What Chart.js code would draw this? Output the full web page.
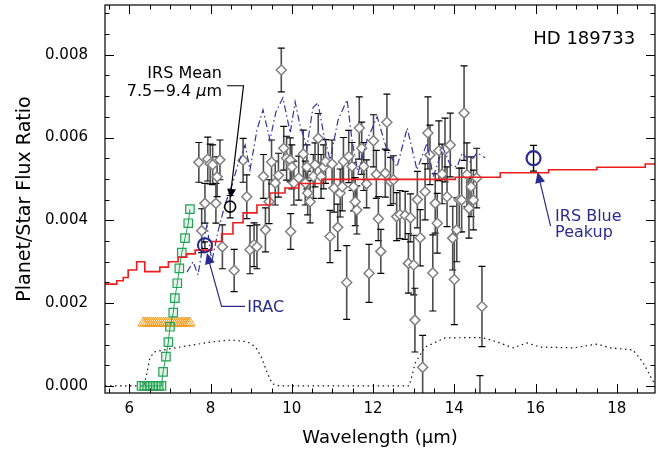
<!DOCTYPE html>
<html><head><meta charset="utf-8">
<script src="https://cdn.jsdelivr.net/npm/chart.js@4.4.1/dist/chart.umd.min.js"></script>
<style>html,body{margin:0;padding:0;background:#fff;}canvas{display:block;}</style>
</head><body>
<canvas id="c" width="660" height="453" style="width:660px;height:453px"></canvas>
<script>
// ---------------- data ----------------
const xTickValues = [6, 8, 10, 12, 14, 16, 18];
const yTickValues = [0.000, 0.002, 0.004, 0.006, 0.008];

// IRS spectrum (grey diamonds with error bars)
const irsWave = [7.71,7.78,7.86,7.93,7.99,8.05,8.13,8.16,8.23,8.29,8.58,8.80,8.89,8.97,9.07,9.14,9.30,9.35,9.44,9.50,
  9.59,9.67,9.74,9.80,9.87,9.96,9.97,10.00,10.05,10.17,10.28,10.33,10.37,10.39,10.45,10.53,10.57,10.65,10.72,10.78,
  10.83,10.94,10.99,11.04,11.13,11.19,11.24,11.27,11.35,11.40,11.48,11.52,11.56,11.60,11.66,11.72,11.77,11.84,11.90,12.01,
  12.08,12.13,12.19,12.30,12.34,12.43,12.50,12.58,12.66,12.79,12.87,12.92,13.00,13.03,13.09,13.16,13.22,13.28,13.35,13.40,
  13.47,13.53,13.58,13.62,13.70,13.77,13.82,13.90,13.96,14.00,14.06,14.12,14.18,14.24,14.31,14.36,14.41,14.47,14.55,14.63,14.68];
const irsFlux = [0.00540,0.00375,0.00441,0.00548,0.00536,0.00534,0.00441,0.00505,0.00546,0.00336,0.00279,0.00545,0.00457,0.00329,0.00341,0.00336,0.00506,0.00377,0.00445,0.00541,
  0.00490,0.00509,0.00763,0.00574,0.00550,0.00546,0.00373,0.00529,0.00490,0.00502,0.00560,0.00490,0.00529,0.00466,0.00445,0.00506,0.00534,0.00598,0.00506,0.00529,
  0.00542,0.00361,0.00536,0.00478,0.00383,0.00466,0.00481,0.00542,0.00250,0.00554,0.00530,0.00481,0.00445,0.00425,0.00623,0.00574,0.00530,0.00488,0.00272,0.00592,
  0.00511,0.00404,0.00325,0.00514,0.00637,0.00494,0.00498,0.00409,0.00414,0.00412,0.00296,0.00406,0.00292,0.00159,0.00450,0.00358,0.00045,0.00469,0.00611,0.00558,
  0.00273,0.00441,0.00393,0.00568,0.00512,0.00570,0.00457,0.00582,0.00357,0.00257,0.00377,0.00449,0.00449,0.00659,0.00510,0.00429,0.00481,0.00449,0.00502,-0.00045,0.00192];
const irsErr = [0.00048,0.00053,0.00048,0.00053,0.00048,0.00048,0.00048,0.00048,0.00048,0.00053,0.00051,0.00053,0.00053,0.00058,0.00053,0.00053,0.00053,0.00053,0.00053,0.00053,
  0.00053,0.00053,0.00053,0.00053,0.00053,0.00053,0.00043,0.00053,0.00053,0.00053,0.00058,0.00053,0.00053,0.00053,0.00051,0.00053,0.00053,0.00060,0.00053,0.00053,
  0.00053,0.00063,0.00058,0.00058,0.00056,0.00058,0.00058,0.00058,0.00089,0.00063,0.00058,0.00058,0.00058,0.00058,0.00075,0.00063,0.00058,0.00058,0.00070,0.00063,
  0.00058,0.00053,0.00053,0.00058,0.00068,0.00058,0.00058,0.00058,0.00058,0.00058,0.00072,0.00058,0.00072,0.00077,0.00068,0.00068,0.00077,0.00068,0.00087,0.00072,
  0.00092,0.00072,0.00072,0.00072,0.00072,0.00077,0.00072,0.00077,0.00077,0.00109,0.00077,0.00077,0.00077,0.00114,0.00077,0.00072,0.00072,0.00072,0.00072,0.00070,0.00097];

// model (red step line)
const modelWave = [5.40,5.69,5.85,5.97,6.18,6.38,6.75,6.96,7.20,7.41,7.62,8.03,8.27,8.55,8.80,9.14,9.46,9.83,10.17,10.74,14.02,15.13,16.32,17.51,18.70,18.94];
const modelFlux = [0.00246,0.00254,0.00262,0.00280,0.00300,0.00276,0.00287,0.00300,0.00311,0.00319,0.00328,0.00349,0.00367,0.00394,0.00418,0.00437,0.00466,0.00478,0.00489,0.00499,0.00504,0.00515,0.00522,0.00528,0.00536,0.00536];

// blue dash-dot spectrum
const blueWave = [7.42,7.57,7.69,7.81,7.91,8.03,8.18,8.35,8.53,8.67,8.85,8.97,9.14,9.29,9.46,9.61,9.78,9.96,10.08,10.20,
  10.37,10.52,10.64,10.79,10.94,11.14,11.36,11.48,11.63,11.85,12.10,12.34,12.59,12.84,13.08,13.33,13.48,13.72,13.90,14.07,14.19,14.39,14.56,14.76];
const blueFlux = [0.00275,0.00300,0.00268,0.00341,0.00389,0.00300,0.00372,0.00437,0.00486,0.00534,0.00582,0.00522,0.00618,0.00667,0.00594,0.00662,0.00696,0.00611,0.00686,0.00630,
  0.00577,0.00672,0.00684,0.00606,0.00546,0.00643,0.00691,0.00594,0.00514,0.00594,0.00650,0.00570,0.00529,0.00623,0.00522,0.00587,0.00505,0.00575,0.00534,0.00529,0.00563,0.00541,0.00563,0.00551];

// dotted bandpass curve
const bandWave = [5.40,6.35,6.42,6.50,6.60,7.00,7.50,8.00,8.50,8.90,9.10,9.25,9.40,9.52,9.70,12.89,13.04,13.28,13.77,14.68,15.00,15.45,15.79,16.11,16.93,17.52,17.84,18.40,18.65,18.90,19.00];
const bandFlux = [0,0,0.00025,0.00065,0.00082,0.00090,0.00098,0.00106,0.00111,0.00107,0.00095,0.00070,0.00030,0.00005,0,0,0.00056,0.00094,0.00116,0.00117,0.00108,0.00092,0.00104,0.00094,0.00092,0.00101,0.00092,0.00087,0.00056,0.00010,0.00002];

// green squares
const greenWave = [6.30,6.37,6.44,6.51,6.58,6.65,6.72,6.79,6.83,6.90,6.96,7.00,7.08,7.12,7.18,7.23,7.29,7.37,7.45,7.49];
const greenFlux = [0,0,0,0,0,0,0,0,0.00034,0.00071,0.00106,0.00143,0.00177,0.00212,0.00248,0.00284,0.00322,0.00357,0.00393,0.00427];

// orange triangles
const orangeWave = [6.34,6.39,6.44,6.49,6.54,6.59,6.64,6.69,6.74,6.79,6.84,6.89,6.94,6.99,7.04,7.09,7.14,7.19,7.24,7.29,7.34,7.39,7.44,7.49];
const orangeFlux = [0.00152,0.00152,0.00152,0.00152,0.00152,0.00152,0.00152,0.00152,0.00152,0.00152,0.00152,0.00152,0.00152,0.00152,0.00152,0.00152,0.00152,0.00152,0.00152,0.00152,0.00152,0.00152,0.00152,0.00152];

// photometric points
const iracWave = [7.86], iracFlux = [0.00340], iracErr = [0.00008];
const meanWave = [8.48], meanFlux = [0.00433], meanErr = [0.00027];
const peakWave = [15.95], peakFlux = [0.00550], peakErr = [0.00031];

// ---------------- chart ----------------
const X_MIN = 5.4, X_MAX = 18.94;
const pts = (xs, ys) => xs.map((x, i) => ({x: x, y: ys[i]}));
Chart.defaults.font.family = "'DejaVu Sans', sans-serif";
Chart.defaults.color = '#000';
const NAVY = '#2b2b8f';
const FONT = "'DejaVu Sans', sans-serif";

function arrowHead(ctx, fx, fy, tx, ty, len, half, color) {
  const a = Math.atan2(ty - fy, tx - fx);
  ctx.fillStyle = color;
  ctx.beginPath();
  ctx.moveTo(tx, ty);
  ctx.lineTo(tx - len * Math.cos(a) + half * Math.sin(a), ty - len * Math.sin(a) - half * Math.cos(a));
  ctx.lineTo(tx - len * Math.cos(a) - half * Math.sin(a), ty - len * Math.sin(a) + half * Math.cos(a));
  ctx.closePath();
  ctx.fill();
}

const overlay = {
  id: 'overlay',
  beforeDatasetDraw(chart, args) {
    const ds = chart.data.datasets[args.index];
    if (!ds.errors) return;
    const {ctx, chartArea: ca, scales: {x, y}} = chart;
    ctx.save();
    ctx.beginPath(); ctx.rect(ca.left, ca.top, ca.right - ca.left, ca.bottom - ca.top); ctx.clip();
    ds.data.forEach((p, i) => {
      const e = ds.errors[i];
      const px = x.getPixelForValue(p.x);
      const y1 = y.getPixelForValue(p.y + e), y2 = y.getPixelForValue(p.y - e);
      ctx.strokeStyle = ds.errColor; ctx.lineWidth = ds.errWidth;
      ctx.beginPath(); ctx.moveTo(px, y1); ctx.lineTo(px, y2); ctx.stroke();
      ctx.strokeStyle = '#000'; ctx.lineWidth = 1.2;
      const c = ds.capHalf;
      ctx.beginPath();
      ctx.moveTo(px - c, y1); ctx.lineTo(px + c, y1);
      ctx.moveTo(px - c, y2); ctx.lineTo(px + c, y2);
      ctx.stroke();
    });
    ctx.restore();
  },
  afterDraw(chart) {
    const {ctx, chartArea: ca, scales: {x, y}} = chart;
    ctx.save();
    // frame
    ctx.strokeStyle = '#000'; ctx.lineWidth = 1.2;
    ctx.strokeRect(ca.left, ca.top, ca.right - ca.left, ca.bottom - ca.top);
    // inward ticks, all four sides
    ctx.beginPath();
    for (let k = 11; k * 0.5 <= X_MAX; k++) {
      const v = k * 0.5;
      const px = Math.round(x.getPixelForValue(v)) + 0.5;
      const major = xTickValues.some(t => Math.abs(t - v) < 1e-6);
      const L = major ? 9 : 4.5;
      ctx.moveTo(px, ca.bottom); ctx.lineTo(px, ca.bottom - L);
      ctx.moveTo(px, ca.top); ctx.lineTo(px, ca.top + L);
    }
    for (let k = 0; k <= 18; k++) {
      const v = k * 0.0005;
      const py = Math.round(y.getPixelForValue(v)) + 0.5;
      const major = yTickValues.some(t => Math.abs(t - v) < 1e-9);
      const L = major ? 9 : 4.5;
      ctx.moveTo(ca.left, py); ctx.lineTo(ca.left + L, py);
      ctx.moveTo(ca.right, py); ctx.lineTo(ca.right - L, py);
    }
    ctx.lineWidth = 1; ctx.stroke();

    const X = v => x.getPixelForValue(v), Y = v => y.getPixelForValue(v);
    ctx.textBaseline = 'middle';
    // HD 189733
    ctx.fillStyle = '#000'; ctx.font = '18px ' + FONT; ctx.textAlign = 'right';
    ctx.fillText('HD 189733', X(18.45), Y(0.00836));
    // IRS Mean label
    ctx.font = '16px ' + FONT;
    ctx.fillText('IRS Mean', X(8.28), Y(0.00754));
    const rx = X(8.28), ly = Y(0.00711);
    const wM = ctx.measureText('m').width;
    ctx.fillText('m', rx, ly);
    ctx.font = 'italic 16px ' + FONT;
    const wMu = ctx.measureText('μ').width;
    ctx.fillText('μ', rx - wM, ly);
    ctx.font = '16px ' + FONT;
    ctx.fillText('7.5\u22129.4 ', rx - wM - wMu, ly);
    // IRS Mean arrow
    ctx.strokeStyle = '#000'; ctx.lineWidth = 1.2;
    ctx.beginPath();
    ctx.moveTo(X(8.40), Y(0.00725)); ctx.lineTo(X(8.81), Y(0.00725)); ctx.lineTo(X(8.49), Y(0.00462));
    ctx.stroke();
    arrowHead(ctx, X(8.81), Y(0.00725), X(8.49), Y(0.00454), 9, 4.5, '#000');
    // IRAC
    ctx.fillStyle = NAVY; ctx.textAlign = 'left'; ctx.font = '16px ' + FONT;
    ctx.fillText('IRAC', X(8.90), Y(0.00188));
    ctx.strokeStyle = NAVY; ctx.lineWidth = 1.2;
    ctx.beginPath();
    ctx.moveTo(X(8.85), Y(0.00192)); ctx.lineTo(X(8.27), Y(0.00192)); ctx.lineTo(X(7.95), Y(0.00305));
    ctx.stroke();
    arrowHead(ctx, X(8.27), Y(0.00192), X(7.91), Y(0.00321), 11, 5, NAVY);
    // IRS Blue Peakup
    ctx.fillText('IRS Blue', X(16.48), Y(0.00409));
    ctx.fillText('Peakup', X(16.48), Y(0.00369));
    ctx.beginPath();
    ctx.moveTo(X(16.37), Y(0.00386)); ctx.lineTo(X(16.08), Y(0.00505));
    ctx.stroke();
    arrowHead(ctx, X(16.37), Y(0.00386), X(16.05), Y(0.00517), 11, 5, NAVY);
    ctx.restore();
  }
};

new Chart(document.getElementById('c'), {
  type: 'scatter',
  data: {
    datasets: [
      { label: 'band', data: pts(bandWave, bandFlux), showLine: true, pointRadius: 0, borderColor: '#111', borderWidth: 1.2, borderDash: [1.5, 3.5], order: 9 },
      { label: 'orange', data: pts(orangeWave, orangeFlux), showLine: false, pointStyle: 'triangle', pointRadius: 6, borderColor: '#f39c1f', backgroundColor: 'rgba(0,0,0,0)', pointBorderWidth: 1, order: 8 },
      { label: 'green', data: pts(greenWave, greenFlux), showLine: true, pointStyle: 'rect', pointRadius: 6, borderColor: '#22a456', pointBorderColor: '#22a456', pointBackgroundColor: 'rgba(34,164,86,0.12)', backgroundColor: 'rgba(0,0,0,0)', borderWidth: 1, pointBorderWidth: 1.2, order: 7 },
      { label: 'irs', data: pts(irsWave, irsFlux), errors: irsErr, errColor: '#4d4d4d', errWidth: 1.6, capHalf: 3.5, showLine: false, pointStyle: 'rectRot', pointRadius: 5, pointBorderColor: '#808080', pointBackgroundColor: '#fff', pointBorderWidth: 1.5, order: 6 },
      { label: 'blue', data: pts(blueWave, blueFlux), showLine: true, pointRadius: 0, borderColor: '#34349e', borderWidth: 1.2, borderDash: [7, 3, 1.5, 3], order: 5 },
      { label: 'model', data: pts(modelWave, modelFlux), showLine: true, stepped: true, pointRadius: 0, borderColor: '#ee1c1c', borderWidth: 1.6, order: 4 },
      { label: 'mean', data: pts(meanWave, meanFlux), errors: meanErr, errColor: '#000', errWidth: 1.2, capHalf: 3.5, pointStyle: 'circle', pointRadius: 5.5, pointBorderColor: '#000', pointBackgroundColor: 'rgba(0,0,0,0)', pointBorderWidth: 1.6, order: 3 },
      { label: 'irac', data: pts(iracWave, iracFlux), errors: iracErr, errColor: '#000', errWidth: 1.2, capHalf: 3, pointStyle: 'circle', pointRadius: 7, pointBorderColor: NAVY, pointBackgroundColor: 'rgba(0,0,0,0)', pointBorderWidth: 2, order: 2 },
      { label: 'peakup', data: pts(peakWave, peakFlux), errors: peakErr, errColor: '#000', errWidth: 1.4, capHalf: 3.5, pointStyle: 'circle', pointRadius: 7, pointBorderColor: NAVY, pointBackgroundColor: 'rgba(0,0,0,0)', pointBorderWidth: 2.2, order: 1 }
    ]
  },
  options: {
    responsive: false, animation: false, devicePixelRatio: 1,
    layout: { autoPadding: false, padding: { left: 10, right: 5, top: 5, bottom: 0 } },
    plugins: { legend: { display: false }, tooltip: { enabled: false } },
    elements: { point: { hoverRadius: 0 } },
    scales: {
      x: {
        type: 'linear', position: 'bottom', min: X_MIN, max: X_MAX,
        afterFit(s) { s.height = 60; s.paddingLeft = 0; s.paddingRight = 0; s.paddingTop = 0; s.paddingBottom = 0; },
        afterBuildTicks(s) { s.ticks = xTickValues.map(v => ({value: v})); },
        grid: { display: false, drawTicks: false }, border: { display: false },
        ticks: { padding: 7, color: '#000', maxRotation: 0, font: { size: 15 }, callback: v => String(v) },
        title: { display: true, text: 'Wavelength (μm)', color: '#000', font: { size: 18 }, padding: { top: 0, bottom: 4 } }
      },
      y: {
        type: 'linear', position: 'left', min: -0.00017, max: 0.0092,
        afterFit(s) { s.width = 95; s.paddingTop = 0; s.paddingBottom = 0; s.paddingLeft = 0; s.paddingRight = 0; },
        afterBuildTicks(s) { s.ticks = yTickValues.map(v => ({value: v})); },
        grid: { display: false, drawTicks: false }, border: { display: false },
        ticks: { padding: 17, color: '#000', font: { size: 15 }, callback: v => Number(v).toFixed(3) },
        title: { display: true, text: 'Planet/Star Flux Ratio', color: '#000', font: { size: 19 }, padding: { top: 4, bottom: 0 } }
      }
    }
  },
  plugins: [overlay]
});
</script>
</body></html>
